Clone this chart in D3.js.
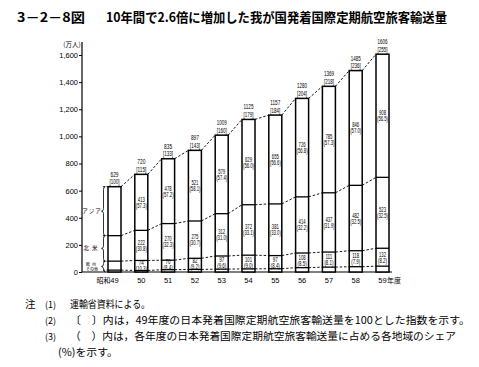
<!DOCTYPE html>
<html><head><meta charset="utf-8">
<script src="https://cdn.jsdelivr.net/npm/d3@7"></script>
<style>
html,body{margin:0;padding:0;background:#fff;}
svg{display:block;}
</style></head>
<body><svg id="c" width="479" height="367"></svg>
<script>
const years = ["49","50","51","52","53","54","55","56","57","58","59"];
const totals = [629,720,835,897,1009,1125,1157,1280,1369,1485,1606];
const indexLabels = ["100","115","133","143","160","179","184","204","218","236","255"];
const asia = [361,413,478,521,579,629,655,726,785,846,908];
const asiaShare = ["","57.3","57.2","58.1","57.4","56.0","56.6","56.8","57.3","57.0","56.5"];
const northAmerica = [188,222,270,275,312,372,381,414,437,482,523];
const naShare = ["","30.8","32.3","30.7","31.0","33.1","33.0","32.2","31.9","32.5","32.5"];
const europe = [66,74,70,82,97,101,97,108,111,118,132];
const euShare = ["","10.3","8.4","9.2","9.6","9.0","8.4","8.5","8.1","7.9","8.2"];
const others = [14,11,17,19,21,23,24,32,36,39,43];
const yTicks = [0,200,400,600,800,1000,1200,1400,1600];
const notes = [
  {k:"(1)", t:"運輸省資料による。"},
  {k:"(2)", t:"〔　〕内は，49年度の日本発着国際定期航空旅客輸送量を100とした指数を示す。"},
  {k:"(3)", t:"（　）内は，各年度の日本発着国際定期航空旅客輸送量に占める各地域のシェア"},
  {k:"", t:"(%)を示す。"}
];

const svg = d3.select("#c");
const NUM = "'Liberation Sans Narrow','Liberation Sans',sans-serif";
const JP = "'Noto Sans CJK JP',sans-serif";

const rows = years.map((yr,i)=>({year:yr, others:others[i], europe:europe[i], na:northAmerica[i], asia:asia[i]}));
const keys = ["others","europe","na","asia"];
const stack = d3.stack().keys(keys)(rows);

const x = d3.scalePoint().domain(years).range([114.5, 382.5]);
const y = d3.scaleLinear().domain([0,1600]).range([272, 55]);
const bw = 13;

// title
svg.append("text").attr("x",17).attr("y",22).attr("font-family",JP).attr("font-size",13).attr("font-weight","bold")
  .attr("textLength",68).attr("lengthAdjust","spacingAndGlyphs").text("3－2－8図");
svg.append("text").attr("x",106).attr("y",22).attr("font-family",JP).attr("font-size",13).attr("font-weight","bold")
  .attr("textLength",341).attr("lengthAdjust","spacingAndGlyphs").text("10年間で2.6倍に増加した我が国発着国際定期航空旅客輸送量");

// y axis
const yAxis = d3.axisLeft(y).tickValues(yTicks).tickFormat(d3.format(",")).tickSize(3).tickPadding(1);
const ga = svg.append("g").attr("transform","translate(82,0)").call(yAxis);
ga.select(".domain").remove();
ga.selectAll("text").attr("font-family",NUM).attr("font-size",7.5).attr("fill","#000");
ga.selectAll("line").attr("stroke","#000");
svg.append("line").attr("x1",82).attr("x2",82).attr("y1",42).attr("y2",y(0)).attr("stroke","#000").attr("stroke-width",1.2);
svg.append("line").attr("x1",82).attr("x2",392).attr("y1",y(0)).attr("y2",y(0)).attr("stroke","#000").attr("stroke-width",1.2);
svg.append("text").attr("x",72).attr("y",47).attr("text-anchor","middle").attr("font-family",JP).attr("font-size",6.5).text("(万人)");

// dashed connectors
const bounds = [stack[0], stack[1], stack[2], stack[3]];
bounds.forEach(s=>{
  for(let i=0;i<years.length-1;i++){
    svg.append("line")
      .attr("x1",x(years[i])+bw/2).attr("x2",x(years[i+1])-bw/2)
      .attr("y1",y(s[i][1])).attr("y2",y(s[i+1][1]))
      .attr("stroke","#000").attr("stroke-width",0.9).attr("stroke-dasharray","2.5,1.8");
  }
  svg.append("line").attr("x1",103).attr("x2",x(years[0])-bw/2)
    .attr("y1",y(s[0][1])).attr("y2",y(s[0][1]))
    .attr("stroke","#000").attr("stroke-width",0.9).attr("stroke-dasharray","2,1.5");
});

// bars
const gb = svg.append("g");
gb.selectAll("rect").data(years).join("rect")
  .attr("x",d=>x(d)-bw/2).attr("width",bw)
  .attr("y",(d,i)=>y(totals[i])).attr("height",(d,i)=>y(0)-y(totals[i]))
  .attr("fill","#fff").attr("stroke","#000").attr("stroke-width",1.5);
[stack[0],stack[1],stack[2]].forEach(s=>{
  gb.append("g").selectAll("line").data(s).join("line")
    .attr("x1",(d,i)=>x(years[i])-bw/2).attr("x2",(d,i)=>x(years[i])+bw/2)
    .attr("y1",d=>y(d[1])).attr("y2",d=>y(d[1]))
    .attr("stroke","#000").attr("stroke-width",1.3);
});

// top labels
const gt = svg.append("g").attr("font-family",NUM).attr("font-size",7).attr("text-anchor","middle");
years.forEach((yr,i)=>{
  const t = y(totals[i]);
  const tw = String(totals[i]).length>3 ? 10 : 8;
  gt.append("text").attr("x",x(yr)).attr("y",t-10).attr("textLength",tw).attr("lengthAdjust","spacingAndGlyphs").text(totals[i]);
  gt.append("text").attr("x",x(yr)).attr("y",t-2.5).attr("textLength",10).attr("lengthAdjust","spacingAndGlyphs").text("["+indexLabels[i]+"]");
});

// inner labels
const inner = [[stack[1], europe, euShare],[stack[2], northAmerica, naShare],[stack[3], asia, asiaShare]];
const gi = svg.append("g").attr("font-family",NUM).attr("font-size",6.5).attr("text-anchor","middle");
inner.forEach(([s, vals, shares])=>{
  years.forEach((yr,i)=>{
    if(!shares[i]) return;
    const mid = (y(s[i][0])+y(s[i][1]))/2;
    const vw = String(vals[i]).length>2 ? 7 : 5;
    gi.append("text").attr("x",x(yr)).attr("y",mid-0.5).attr("textLength",vw).attr("lengthAdjust","spacingAndGlyphs").text(vals[i]);
    gi.append("text").attr("x",x(yr)).attr("y",mid+5.5).attr("textLength",shares[i].length>3?11:9).attr("lengthAdjust","spacingAndGlyphs").text("("+shares[i]+")");
  });
});

// braces for first bar
function brace(x0, y1, y2){
  const ym=(y1+y2)/2, r=Math.min(2.5,(y2-y1)/4);
  return `M${x0+2},${y1} Q${x0},${y1} ${x0},${y1+r} L${x0},${ym-r} Q${x0},${ym} ${x0-2},${ym} Q${x0},${ym} ${x0},${ym+r} L${x0},${y2-r} Q${x0},${y2} ${x0+2},${y2}`;
}
const gbr = svg.append("g");
const b0 = y(stack[3][0][1]), b1 = y(stack[2][0][1]), b2 = y(stack[1][0][1]), b3 = y(0);
[[b0,b1],[b1,b2],[b2,b3]].forEach(([a,b])=>{
  gbr.append("path").attr("d",brace(103.5,a,b)).attr("fill","none").attr("stroke","#000").attr("stroke-width",0.8);
});
gbr.append("text").attr("x",92).attr("y",(b0+b1)/2+2).attr("text-anchor","middle").attr("font-family",JP).attr("font-size",5.5).attr("letter-spacing",1).text("アジア");
gbr.append("text").attr("x",92).attr("y",(b1+b2)/2+2).attr("text-anchor","middle").attr("font-family",JP).attr("font-size",5.5).attr("letter-spacing",3).text("北米");
gbr.append("text").attr("x",92).attr("y",b2+4.5).attr("text-anchor","middle").attr("font-family",JP).attr("font-size",4).attr("letter-spacing",2).text("欧州");
gbr.append("text").attr("x",92).attr("y",b3-1.5).attr("text-anchor","middle").attr("font-family",JP).attr("font-size",4).text("その他");

// x labels
const gx = svg.append("g").attr("font-family",NUM).attr("font-size",7.5);
years.forEach((yr,i)=>{
  gx.append("text").attr("x",x(yr)).attr("y",283).attr("text-anchor","middle").text(yr);
});
gx.append("text").attr("x",x(years[0])-4).attr("y",283).attr("text-anchor","end").attr("font-family",JP).attr("font-size",7).text("昭和");
gx.append("text").attr("x",x(years[10])+4.5).attr("y",283).attr("text-anchor","start").attr("font-family",JP).attr("font-size",7).text("年度");

// notes
const gn = svg.append("g").attr("font-family",JP).attr("font-size",10.5);
gn.append("text").attr("x",25).attr("y",308).text("注");
const ny = [308,324,340,356];
const nw = [80,400,386,60];
notes.forEach((n,i)=>{
  if(n.k) gn.append("text").attr("x",45).attr("y",ny[i]).attr("font-size",9).text(n.k);
  gn.append("text").attr("x",i===3?58:70).attr("y",ny[i]).attr("textLength",nw[i]).attr("lengthAdjust","spacingAndGlyphs").text(n.t);
});
</script>
</body></html>
